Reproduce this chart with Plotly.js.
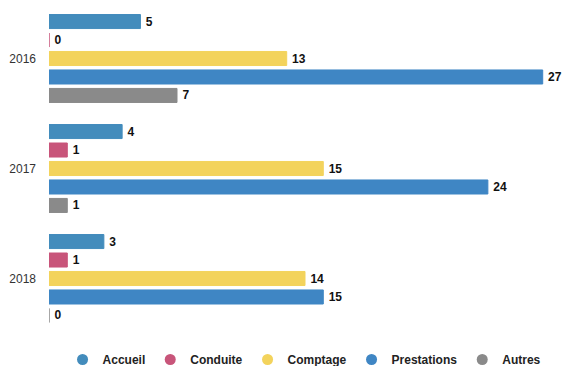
<!DOCTYPE html>
<html>
<head>
<meta charset="utf-8">
<script src="https://cdn.plot.ly/plotly-3.0.1.min.js"></script>
<style>
  html, body { margin: 0; padding: 0; background: #ffffff; }
  #chart { width: 564px; height: 366px; }
</style>
</head>
<body>
<div id="chart"></div>
<script>
// Years shown on the vertical axis
const years = ['2016', '2017', '2018'];

// Counts per category and year
const accueil     = [5, 4, 3];
const conduite    = [0, 1, 1];
const comptage    = [13, 15, 14];
const prestations = [27, 24, 15];
const autres      = [7, 1, 0];

const seriesNames  = ['Accueil', 'Conduite', 'Comptage', 'Prestations', 'Autres'];
const seriesValues = [accueil, conduite, comptage, prestations, autres];
const seriesColors = ['#438cbc', '#c8557a', '#f3d35c', '#3f86c4', '#8a8a8a'];

const traces = [];
seriesNames.forEach((name, i) => {
  traces.push({
    type: 'bar',
    orientation: 'h',
    name: name,
    y: years,
    x: seriesValues[i],
    texttemplate: '\u2009%{x}',
    textposition: 'outside',
    cliponaxis: false,
    textfont: { family: 'Liberation Sans, Arial, sans-serif', size: 12, color: '#111111', weight: 'bold' },
    marker: { color: seriesColors[i], line: { color: seriesColors[i], width: 1 } },
    showlegend: false,
    hoverinfo: 'none'
  });
});

// Round legend markers
seriesNames.forEach((name, i) => {
  traces.push({
    type: 'scatter',
    mode: 'markers',
    name: name,
    x: [null],
    y: [null],
    marker: { color: seriesColors[i], size: 11, symbol: 'circle' },
    showlegend: true,
    hoverinfo: 'none'
  });
});

const layout = {
  width: 564,
  height: 366,
  margin: { l: 0, r: 0, t: 0, b: 0, autoexpand: false },
  paper_bgcolor: '#ffffff',
  plot_bgcolor: '#ffffff',
  barmode: 'group',
  bargap: 0.16,
  bargroupgap: 0.24,
  showlegend: true,
  legend: {
    orientation: 'h',
    x: 0.54,
    xanchor: 'center',
    y: 6.5 / 366,
    yanchor: 'middle',
    font: { family: 'Liberation Sans, Arial, sans-serif', size: 12, color: '#222222', weight: 'bold' },
    itemwidth: 30
  },
  xaxis: {
    domain: [49 / 564, 561 / 564],
    range: [0, 28],
    visible: false,
    showgrid: false,
    zeroline: false,
    fixedrange: true
  },
  yaxis: {
    domain: [32.5 / 366, 362.5 / 366],
    type: 'category',
    autorange: 'reversed',
    showgrid: false,
    zeroline: false,
    showline: false,
    ticks: '',
    tickfont: { family: 'Liberation Sans, Arial, sans-serif', size: 12, color: '#333333' },
    ticklabelstandoff: 12,
    automargin: false
  }
};

Plotly.newPlot('chart', traces, layout, { displayModeBar: false, staticPlot: true });
</script>
</body>
</html>
